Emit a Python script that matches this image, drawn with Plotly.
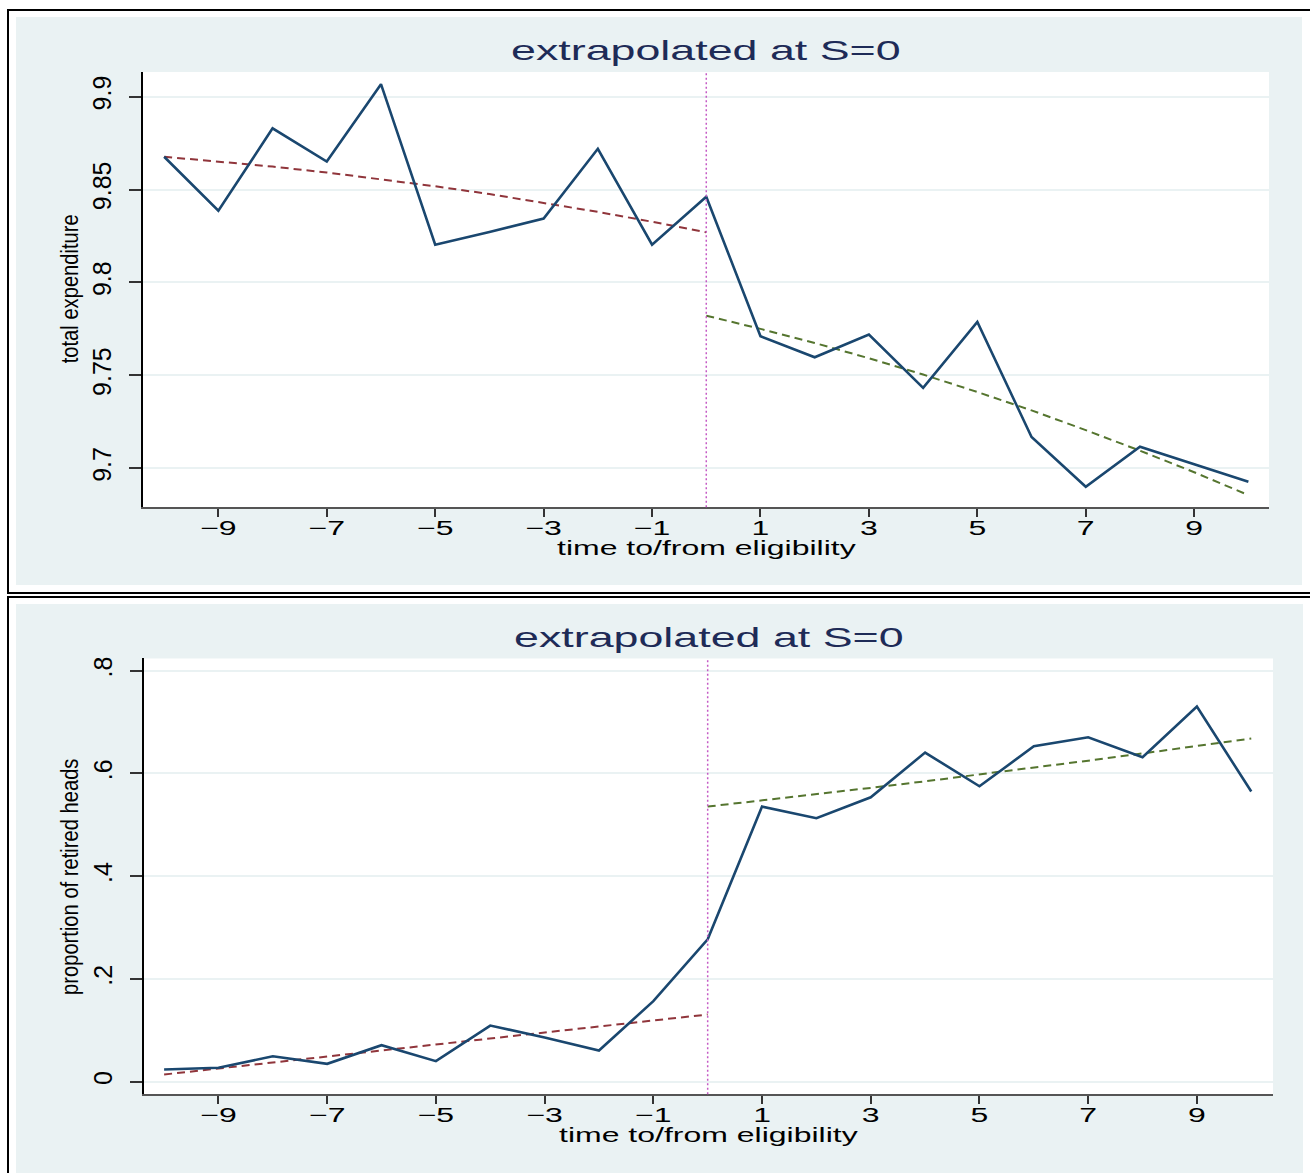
import plotly.graph_objects as go

# ---------------- data ----------------
x_all = list(range(-10, 11))
x_pre = list(range(-10, 1))
x_post = list(range(0, 11))
cutoff = 0

exp_mean = [9.8677, 9.8386, 9.8830, 9.8651, 9.9068, 9.8203, 9.8272, 9.8344, 9.8720, 9.8203,
            9.8462, 9.7710, 9.7597, 9.7719, 9.7432, 9.7787, 9.7168, 9.6900, 9.7115, 9.7022, 9.6927]
exp_fit_pre = [9.8677, 9.8652, 9.8624, 9.8592, 9.8557, 9.8518, 9.8476, 9.8430, 9.8380, 9.8327, 9.8270]
exp_fit_post = [9.7821, 9.7750, 9.7674, 9.7592, 9.7504, 9.7410, 9.7311, 9.7205, 9.7094, 9.6978, 9.6855]

ret_mean = [0.0239, 0.0272, 0.0498, 0.0350, 0.0712, 0.0401, 0.1095, 0.0862, 0.0608, 0.1570,
            0.2774, 0.5356, 0.5129, 0.5537, 0.6407, 0.5751, 0.6529, 0.6705, 0.6315, 0.7302, 0.5648]
ret_fit_pre = [0.0142, 0.0259, 0.0376, 0.0492, 0.0609, 0.0726, 0.0843, 0.0960, 0.1076, 0.1193, 0.1310]
ret_fit_post = [0.5356, 0.5474, 0.5596, 0.5720, 0.5848, 0.5979, 0.6113, 0.6250, 0.6390, 0.6533, 0.6680]

x_tickvals = [-9, -7, -5, -3, -1, 1, 3, 5, 7, 9]
exp_tickvals = [9.7, 9.75, 9.8, 9.85, 9.9]
exp_ticktext = ["9.7", "9.75", "9.8", "9.85", "9.9"]
ret_tickvals = [0, 0.2, 0.4, 0.6, 0.8]
ret_ticktext = ["0", ".2", ".4", ".6", ".8"]

panel_title = "extrapolated at S=0"
x_title = "time to/from eligibility"
y_title_top = "total expenditure"
y_title_bot = "proportion of retired heads"

# ---------------- styling ----------------
W, H = 1310, 1173
FONT = "Liberation Sans, Arial, Helvetica, sans-serif"
NAVY = "#1a476f"
MAROON = "#90353b"
GREEN = "#55752f"
MAGENTA = "#c55bc5"
BG = "#eaf2f3"
GRID = "#eaf2f3"
TITLE_C = "#1e2b57"


def fx(p):
    return p / W


def fy(p):
    return 1 - p / H


# panel geometry in pixels
top = dict(px0=143, px1=1269, py0=70, py1=506, bg=(16, 1302, 15, 584), border=(8, 1330, 8, 592))
bot = dict(px0=144, px1=1273, py0=657.5, py1=1094, bg=(16, 1303, 603, 1180), border=(8, 1330, 596, 1190))

fig = go.Figure()

for xa, ya, mean, fpre, fpost in [("x", "y", exp_mean, exp_fit_pre, exp_fit_post),
                                   ("x2", "y2", ret_mean, ret_fit_pre, ret_fit_post)]:
    fig.add_trace(go.Scatter(x=x_pre, y=fpre, mode="lines", xaxis=xa, yaxis=ya,
                             line=dict(color=MAROON, width=2, dash="8px,5px"), showlegend=False))
    fig.add_trace(go.Scatter(x=x_post, y=fpost, mode="lines", xaxis=xa, yaxis=ya,
                             line=dict(color=GREEN, width=2, dash="8px,5px"), showlegend=False))
    fig.add_trace(go.Scatter(x=x_all, y=mean, mode="lines", xaxis=xa, yaxis=ya,
                             line=dict(color=NAVY, width=2.6), showlegend=False))

shapes = []
for p in (top, bot):
    bx0, bx1, by0, by1 = p["border"]
    shapes.append(dict(type="rect", xref="paper", yref="paper", layer="below",
                       x0=fx(bx0), x1=fx(bx1), y0=fy(by0), y1=fy(by1),
                       line=dict(color="black", width=2), fillcolor="white"))
    gx0, gx1, gy0, gy1 = p["bg"]
    shapes.append(dict(type="rect", xref="paper", yref="paper", layer="below",
                       x0=fx(gx0), x1=fx(gx1), y0=fy(gy0), y1=fy(gy1),
                       line=dict(width=0), fillcolor=BG))
    shapes.append(dict(type="rect", xref="paper", yref="paper", layer="below",
                       x0=fx(p["px0"]), x1=fx(p["px1"]), y0=fy(p["py0"]), y1=fy(p["py1"]),
                       line=dict(width=0), fillcolor="white"))

for xa, ya in [("x", "y"), ("x2", "y2")]:
    shapes.append(dict(type="line", xref=xa, yref=ya + " domain", x0=cutoff, x1=cutoff, y0=0, y1=1,
                       line=dict(color=MAGENTA, width=1.5, dash="2px,2.5px")))

xax_common = dict(tickvals=x_tickvals, ticks="outside", ticklen=8, tickwidth=1.5, tickcolor="#333",
                  showline=True, linecolor="#555", linewidth=2, showgrid=False, zeroline=False,
                  ticklabelstandoff=-6,
                  tickfont=dict(family=FONT, size=20, color="black"))
yax_common = dict(ticks="outside", ticklen=12, tickwidth=1.5, tickcolor="#333", tickangle=-90,
                  showline=True, linecolor="black", linewidth=2, showgrid=True, gridcolor=GRID,
                  gridwidth=2, zeroline=False, ticklabelstandoff=8,
                  tickfont=dict(family=FONT, size=25, color="black"))

fig.update_layout(
    width=W, height=H, autosize=False,
    margin=dict(l=0, r=0, t=0, b=0, pad=0),
    paper_bgcolor="white", plot_bgcolor="rgba(0,0,0,0)",
    shapes=shapes,
    xaxis=dict(domain=[fx(top["px0"]), fx(top["px1"])], anchor="y", range=[-10.39, 10.38], **xax_common),
    yaxis=dict(domain=[fy(top["py1"]), fy(top["py0"])], anchor="x", range=[9.679, 9.9134],
               tickvals=exp_tickvals, ticktext=exp_ticktext, **yax_common),
    xaxis2=dict(domain=[fx(bot["px0"]), fx(bot["px1"])], anchor="y2", range=[-10.37, 10.40], **xax_common),
    yaxis2=dict(domain=[fy(bot["py1"]), fy(bot["py0"])], anchor="x2", range=[-0.024, 0.824],
                tickvals=ret_tickvals, ticktext=ret_ticktext, **yax_common),
)

ann = []
for p, ytitle, yc, xc in [(top, y_title_top, 288, 70), (bot, y_title_bot, 876, 70)]:
    cx = (p["px0"] + p["px1"]) / 2
    ann.append(dict(text=panel_title, xref="paper", yref="paper", x=fx(cx), y=fy(p["py0"] - 21),
                    xanchor="center", yanchor="middle", showarrow=False,
                    font=dict(family=FONT, size=28, color=TITLE_C)))
    ann.append(dict(text=x_title, xref="paper", yref="paper", x=fx(cx), y=fy(p["py1"] + 41),
                    xanchor="center", yanchor="middle", showarrow=False,
                    font=dict(family=FONT, size=20, color="black")))
    ann.append(dict(text=ytitle, xref="paper", yref="paper", x=fx(xc), y=fy(yc),
                    xanchor="center", yanchor="middle", showarrow=False, textangle=-90,
                    font=dict(family=FONT, size=24, color="black")))
fig.update_layout(annotations=ann)

post = """
(function(){
  document.body.style.margin = '0';
  var gd = document.getElementById('{plot_id}');
  function scaleText(t, s){
    var tr = t.getAttribute('transform') || '';
    if (tr.indexOf('scale(') >= 0) return;
    var cx = parseFloat(t.getAttribute('x')) || 0;
    t.setAttribute('transform', tr + ' translate(' + cx + ',0) scale(' + s + ',1) translate(' + (-cx) + ',0)');
  }
  function stretch(){
    gd.querySelectorAll('.xtick text, .x2tick text').forEach(function(t){ scaleText(t, 1.6); });
    gd.querySelectorAll('.annotation-text').forEach(function(t){
      var txt = t.textContent || '';
      if (txt.indexOf('extrapolated') >= 0 || txt.indexOf('time to') >= 0) scaleText(t, 1.6);
      else scaleText(t, 0.84);
    });
  }
  stretch();
  if (gd.on) gd.on('plotly_afterplot', stretch);
})();
"""

fig.write_html("out.html", post_script=post, config={"displayModeBar": False})
